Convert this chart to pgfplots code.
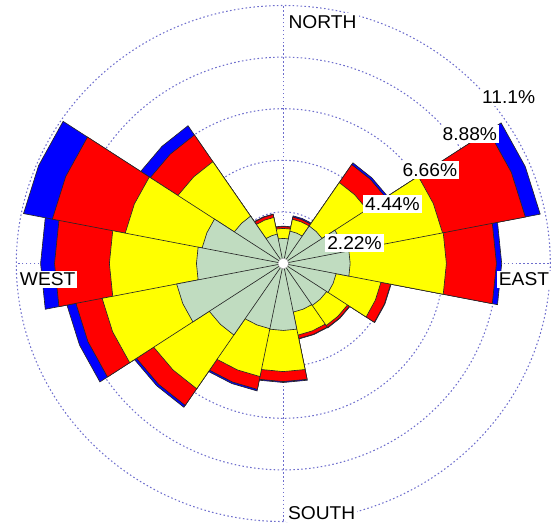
\documentclass[border=0pt]{standalone}
\usepackage{pgfplots}
\pgfplotsset{compat=1.18}
\usepgfplotslibrary{polar}
\usepackage{pgfplotstable}
\usepackage{fontspec}
\setmainfont{Liberation Sans}[FakeStretch=1.035]
\definecolor{wgreen}{RGB}{192,220,192}
\definecolor{wyellow}{RGB}{255,255,0}
\definecolor{wred}{RGB}{255,0,0}
\definecolor{wblue}{RGB}{0,0,255}
\definecolor{gridc}{RGB}{110,110,205}

% cumulative frequency (%) per direction: g, g+y, g+y+r, total
% each sector: centre, then its arc at -11.25, 0, +11.25 deg
\pgfplotstableread{
a g y r b
0 0 0 0 0
348.75 2.78 6.78 8.86 9.08
0 2.78 6.78 8.86 9.08
11.25 2.78 6.78 8.86 9.08
22.5 0 0 0 0
11.25 2.58 6.75 10.26 10.89
22.5 2.58 6.75 10.26 10.89
33.75 2.58 6.75 10.26 10.89
45 0 0 0 0
33.75 1.94 4.19 5.12 5.21
45 1.94 4.19 5.12 5.21
56.25 1.94 4.19 5.12 5.21
67.5 0 0 0 0
56.25 1.42 1.94 2.04 2.09
67.5 1.42 1.94 2.04 2.09
78.75 1.42 1.94 2.04 2.09
90 0 0 0 0
78.75 1.08 1.51 1.59 1.61
90 1.08 1.51 1.59 1.61
101.25 1.08 1.51 1.59 1.61
112.5 0 0 0 0
101.25 1.29 2.02 2.15 2.17
112.5 1.29 2.02 2.15 2.17
123.75 1.29 2.02 2.15 2.17
135 0 0 0 0
123.75 2.45 5.27 6.65 7.13
135 2.45 5.27 6.65 7.13
146.25 2.45 5.27 6.65 7.13
157.5 0 0 0 0
146.25 3.44 6.70 9.79 11.01
157.5 3.44 6.70 9.79 11.01
168.75 3.44 6.70 9.79 11.01
180 0 0 0 0
168.75 3.61 7.23 9.51 10.09
180 3.61 7.23 9.51 10.09
191.25 3.61 7.23 9.51 10.09
202.5 0 0 0 0
191.25 4.52 7.68 8.79 9.17
202.5 4.52 7.68 8.79 9.17
213.75 4.52 7.68 8.79 9.17
225 0 0 0 0
213.75 3.70 6.48 7.34 7.44
225 3.70 6.48 7.34 7.44
236.25 3.70 6.48 7.34 7.44
247.5 0 0 0 0
236.25 2.86 4.96 5.52 5.59
247.5 2.86 4.96 5.52 5.59
258.75 2.86 4.96 5.52 5.59
270 0 0 0 0
258.75 2.88 4.65 5.08 5.12
270 2.88 4.65 5.08 5.12
281.25 2.88 4.65 5.08 5.12
292.5 0 0 0 0
281.25 2.13 3.14 3.29 3.31
292.5 2.13 3.14 3.29 3.31
303.75 2.13 3.14 3.29 3.31
315 0 0 0 0
303.75 2.17 3.21 3.31 3.33
315 2.17 3.21 3.31 3.33
326.25 2.17 3.21 3.31 3.33
337.5 0 0 0 0
326.25 2.24 4.14 4.55 4.57
337.5 2.24 4.14 4.55 4.57
348.75 2.24 4.14 4.55 4.57
0 0 0 0 0
}\rose

\begin{document}
\begin{tikzpicture}[lbl/.style={fill=white, inner sep=1.5pt, font=\fontsize{13.2}{15}\selectfont}]
\useasboundingbox (-7.0825,-6.5375) rectangle (6.8925,6.5875);
\begin{polaraxis}[at={(0,0)}, anchor=center,
    scale only axis, width=13.35cm, height=12.9cm,
    ymin=0, ymax=11.1, clip=false,
    xtick={0,90,180,270}, ytick={2.22,4.44,6.66,8.88},
    xticklabels={}, yticklabels={}, major tick length=0pt,
    grid=major,
    major grid style={gridc, line width=0.75pt, dash pattern=on 1.1pt off 1.7pt},
    axis line style={gridc, line width=0.75pt, dash pattern=on 1.1pt off 1.7pt},
    y axis line style={draw=none}]
\addplot[fill=wblue, draw=black!85, line width=0.45pt] table[x=a, y=b] {\rose};
\addplot[fill=wred, draw=black!85, line width=0.45pt] table[x=a, y=r] {\rose};
\addplot[fill=wyellow, draw=black!85, line width=0.45pt] table[x=a, y=y] {\rose};
\addplot[fill=wgreen, draw=black!85, line width=0.45pt] table[x=a, y=g] {\rose};
\addplot[only marks, mark=*, mark size=3.8pt, mark options={fill=white, draw=black!35}] coordinates {(0,0)};
\node[lbl] at (axis cs:16.6,3.09) {2.22\%};
\node[lbl] at (axis cs:29.4,5.21) {4.44\%};
\node[lbl] at (axis cs:33.4,7.30) {6.66\%};
\node[lbl] at (axis cs:35.7,9.55) {8.88\%};
\node[lbl] at (axis cs:37.3,11.78) {11.1\%};
\node[lbl] at (axis cs:81.1,10.53) {NORTH};
\node[lbl] at (axis cs:278.45,10.86) {SOUTH};
\node[lbl] at (axis cs:356.14,10.03) {EAST};
\node[lbl] at (axis cs:183.94,9.82) {WEST};
\end{polaraxis}
\end{tikzpicture}
\end{document}
